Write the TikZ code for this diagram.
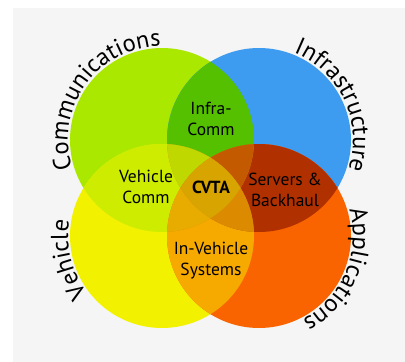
\documentclass[tikz,border=0pt]{standalone}
\usepackage{fontspec}
\setmainfont{PT Sans}
\usetikzlibrary{decorations.text,calc}
\definecolor{cG}{HTML}{AAE800}
\definecolor{cB}{HTML}{3E9CF0}
\definecolor{cY}{HTML}{F2F200}
\definecolor{cO}{HTML}{FA6400}
\definecolor{cGB}{HTML}{54C000}
\definecolor{cGY}{HTML}{CDEC00}
\definecolor{cYO}{HTML}{F6AA00}
\definecolor{cBO}{HTML}{B03000}
\definecolor{cGO}{HTML}{D89000}
\definecolor{cBY}{HTML}{D89000}
\definecolor{cGBY}{HTML}{BED800}
\definecolor{cGBO}{HTML}{C45A00}
\definecolor{cGYO}{HTML}{E8AC00}
\definecolor{cBYO}{HTML}{DC8A00}
\definecolor{cAll}{HTML}{D8A400}
\definecolor{panel}{HTML}{F5F5F5}
\tikzset{
  lab/.style={align=center, font=\fontsize{17.5}{21}\selectfont, text=black, inner sep=0pt},
  curved/.style={decorate, decoration={text along path, text align=center, text={#1}}},
}
\newcommand{\rr}{92}
\newcommand{\tr}{94}
\newcommand{\outfont}{\fontsize{24.5}{30}\selectfont}
\begin{document}
\begin{tikzpicture}[x=1pt,y=1pt]
\useasboundingbox (0,0) rectangle (405,362);
\fill[white] (0,0) rectangle (405,362);
\fill[panel] (13,0) rectangle (405,354);
\coordinate (G) at (162,222);
\coordinate (B) at (259,222);
\coordinate (Y) at (162,126);
\coordinate (O) at (259,126);
% single circles
\fill[cG] (G) circle (\rr);
\fill[cB] (B) circle (\rr);
\fill[cY] (Y) circle (\rr);
\fill[cO] (O) circle (\rr);
% pairs
\begin{scope}\clip (G) circle (\rr); \fill[cGB] (B) circle (\rr); \end{scope}
\begin{scope}\clip (G) circle (\rr); \fill[cGY] (Y) circle (\rr); \end{scope}
\begin{scope}\clip (Y) circle (\rr); \fill[cYO] (O) circle (\rr); \end{scope}
\begin{scope}\clip (B) circle (\rr); \fill[cBO] (O) circle (\rr); \end{scope}
\begin{scope}\clip (G) circle (\rr); \fill[cGO] (O) circle (\rr); \end{scope}
\begin{scope}\clip (B) circle (\rr); \fill[cBY] (Y) circle (\rr); \end{scope}
% triples
\begin{scope}\clip (G) circle (\rr); \clip (B) circle (\rr); \fill[cGBY] (Y) circle (\rr); \end{scope}
\begin{scope}\clip (G) circle (\rr); \clip (B) circle (\rr); \fill[cGBO] (O) circle (\rr); \end{scope}
\begin{scope}\clip (G) circle (\rr); \clip (Y) circle (\rr); \fill[cGYO] (O) circle (\rr); \end{scope}
\begin{scope}\clip (B) circle (\rr); \clip (Y) circle (\rr); \fill[cBYO] (O) circle (\rr); \end{scope}
% all four
\begin{scope}\clip (G) circle (\rr); \clip (B) circle (\rr); \clip (Y) circle (\rr); \fill[cAll] (O) circle (\rr); \end{scope}
% inner labels
\node[lab] (infra) at (211,243) {Infra-\\Comm};
\node[lab] (vcomm) at (146,175) {Vehicle\\Comm};
\node[lab, font=\fontsize{17.5}{21}\selectfont\bfseries] (cvta) at (211,175) {CVTA};
\node[lab] (servers) at (285,172) {Servers \&\\Backhaul};
\node[lab] (invehicle) at (211,101) {In-Vehicle\\Systems};
% curved outer labels
\path[curved={|\outfont|Communications}] ($(G)+(196:\tr)$) arc[start angle=196, end angle=92, radius=\tr];
\path[curved={|\outfont|Infrastructure}] ($(B)+(70:\tr)$) arc[start angle=70, end angle=-20, radius=\tr];
\path[curved={|\outfont|Vehicle}] ($(Y)+(225:\tr)$) arc[start angle=225, end angle=163, radius=\tr];
\path[curved={|\outfont|Applications}] ($(O)+(16:\tr)$) arc[start angle=16, end angle=-62, radius=\tr];
\end{tikzpicture}
\end{document}
